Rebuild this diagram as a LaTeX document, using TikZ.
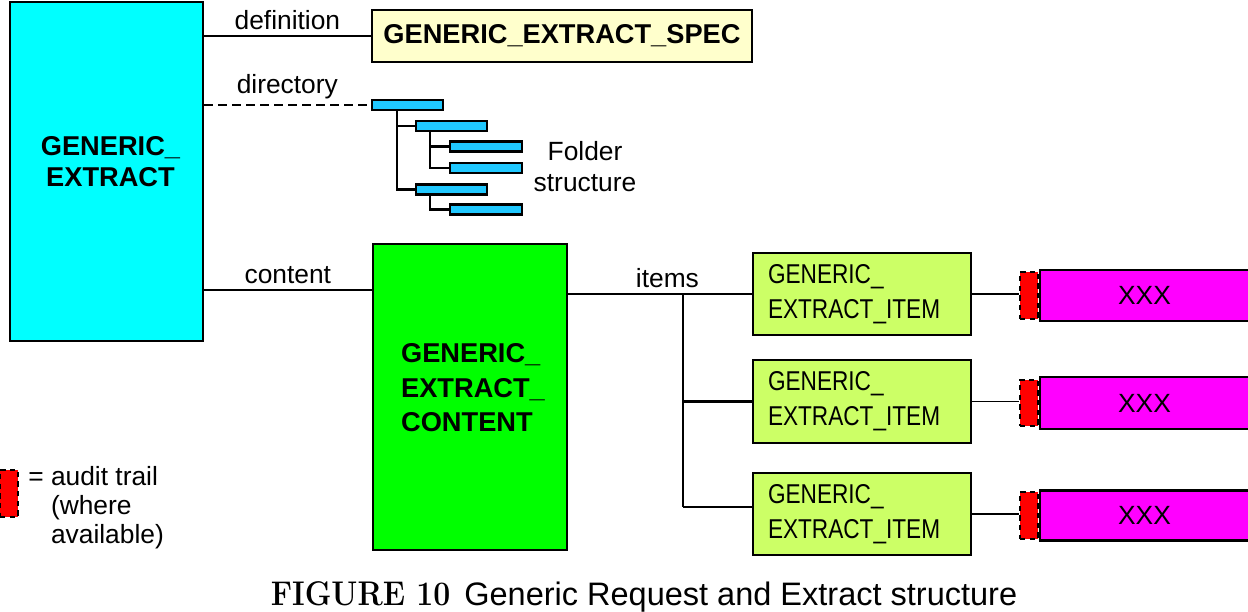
\documentclass[tikz,border=0pt]{standalone}
\usepackage{fontspec}
\newfontfamily\arialfont{Liberation Sans}
\newfontfamily\itemfont{Liberation Sans}[FakeStretch=0.83]
\usetikzlibrary{positioning}
\definecolor{extractcyan}{RGB}{0,255,255}
\definecolor{folderblue}{RGB}{32,200,255}
\definecolor{specyellow}{RGB}{255,255,204}
\definecolor{contentgreen}{RGB}{0,255,0}
\definecolor{itemgreen}{RGB}{204,255,102}
\definecolor{xxxmagenta}{RGB}{255,0,255}
\tikzset{
  box/.style={draw, line width=1.2pt, inner sep=0pt},
  boldtxt/.style={font=\arialfont\bfseries\fontsize{15.5}{17.6}\selectfont},
  lbl/.style={font=\arialfont\fontsize{15}{17.6}\selectfont, inner sep=3pt},
  bar/.style={draw, line width=1.4pt, fill=folderblue, minimum width=1.42cm, minimum height=0.2cm, inner sep=0pt},
  tree/.style={line width=1.3pt},
  audit/.style={draw, dash pattern=on 3pt off 2.5pt, line width=1.1pt, fill=red, minimum width=0.36cm, minimum height=0.94cm, inner sep=0pt},
  itembox/.style={box, fill=itemgreen, minimum width=4.36cm, minimum height=1.64cm, inner xsep=0.3cm, text width=3.76cm, align=left, font=\itemfont\fontsize{15.5}{19.8}\selectfont},
  xxxbox/.style={box, fill=xxxmagenta, minimum width=4.18cm, font=\arialfont\fontsize{15}{18}\selectfont},
  link/.style={line width=0.9pt},
  thicklink/.style={line width=1.5pt},
}
\begin{document}
\begin{tikzpicture}[x=0.02cm, y=-0.02cm]
        \useasboundingbox (0,0) rectangle (1248,612);
        %%Extract and its definition
        \node[box, line width=1pt, fill=extractcyan, minimum width=3.86cm, minimum height=6.78cm,
          label={[boldtxt, align=center, xshift=0.08cm, yshift=0.19cm]center:GENERIC\_\\EXTRACT}] (extract) at (106.5,171.5) {};
        \node[box, fill=specyellow, minimum width=7.6cm, minimum height=1.04cm, boldtxt] (spec) at (562,36) {GENERIC\_EXTRACT\_SPEC};
        \draw[link] (extract.east |- spec.west) -- (spec.west) node[lbl, midway, above]{definition};
        %%Folder structure
        \node[bar] (dir1) at (407.5,105) {};
        \node[bar] (dir2) at (451.5,126) {};
        \node[bar, minimum width=1.44cm] (dir3) at (486,146.5) {};
        \node[bar, minimum width=1.44cm] (dir4) at (486,168) {};
        \node[bar] (dir5) at (451.5,189.5) {};
        \node[bar, minimum width=1.44cm] (dir6) at (486,209.5) {};
        \coordinate (t1) at (397,0);
        \coordinate (t2) at (430,0);
        \draw[tree] (dir1.south -| t1) |- (dir5.west);
        \draw[tree] (t1 |- dir2.west) -- (dir2.west);
        \draw[tree] (dir2.south -| t2) |- (dir4.west);
        \draw[tree] (t2 |- dir3.west) -- (dir3.west);
        \draw[tree] (dir5.south -| t2) |- (dir6.west);
        \node[lbl, align=center] (folderlbl) at (585,167) {Folder\\structure};
        \draw[line width=1.1pt, dash pattern=on 5pt off 3pt] (extract.east |- dir1.west) -- (dir1.west) node[lbl, midway, above]{directory};
        %%Content
        \node[box, line width=1.4pt, fill=contentgreen, minimum width=3.88cm, minimum height=6.12cm,
          label={[boldtxt, font=\arialfont\bfseries\fontsize{15.5}{19.6}\selectfont, align=left, xshift=0.06cm, yshift=0.18cm]center:GENERIC\_\\EXTRACT\_\\CONTENT}] (content) at (470,397) {};
        \coordinate (contentjoin) at ([yshift=2.14cm]content.west);
        \draw[thicklink] (contentjoin -| extract.east) -- (contentjoin) node[lbl, midway, above]{content};
        %%Items
        \node[itembox] (item1) at (862,294) {GENERIC\_\\EXTRACT\_ITEM};
        \node[itembox, minimum height=1.66cm] (item2) at (862,401.5) {GENERIC\_\\EXTRACT\_ITEM};
        \node[itembox] (item3) at (862,514) {GENERIC\_\\EXTRACT\_ITEM};
        \coordinate (fork) at (683,0);
        \coordinate (item3join) at ([yshift=0.14cm]item3.west);
        \draw[link] (item1.west -| content.east) -- (item1.west) node[lbl, pos=0.54, above]{items};
        \draw[link] (item1.west -| fork) -- (item2.west -| fork);
        \draw[thicklink] (item2.west) -- (item2.west -| fork) -- (item3join -| fork);
        \draw[link, line width=1.2pt] (item3join -| fork) -- (item3join);
        %%Audit trail and XXX
        \node[audit] (audit1) at (1029,295.5) {};
        \node[audit, minimum height=0.92cm] (audit2) at (1029,403) {};
        \node[audit] (audit3) at (1029,515.5) {};
        \node[xxxbox, minimum height=1.02cm, right=0pt of audit1] (xxx1) {XXX};
        \node[xxxbox, minimum height=1.04cm, right=0pt of audit2] (xxx2) {XXX};
        \node[xxxbox, minimum height=1.0cm, right=0pt of audit3] (xxx3) {XXX};
        \draw[thicklink] (item1.east) -- (item1.east -| audit1.west);
        \draw[link] (item2.east) -- (item2.east -| audit2.west);
        \draw[thicklink] (item3.east) -- (item3.east -| audit3.west);
        %%Legend
        \node[audit] (legmark) at (9,493.5) {};
        \node[lbl, font=\arialfont\fontsize{15}{16.5}\selectfont, align=left, anchor=north west, inner sep=0pt] (legtext)
          at ([xshift=0.18cm, yshift=0.06cm]legmark.north east) {=~audit trail\\\phantom{=~}(where\\\phantom{=~}available)};
        %%Caption
        \node[anchor=base, inner sep=0pt] (caption) at (644,605)
          {\scalebox{0.88}[1]{\rmfamily\bfseries\fontsize{19.5}{22}\selectfont FIGURE 10}\hspace{8pt}{\arialfont\fontsize{18.5}{22}\selectfont Generic Request and Extract structure}};
    \end{tikzpicture}
\end{document}
